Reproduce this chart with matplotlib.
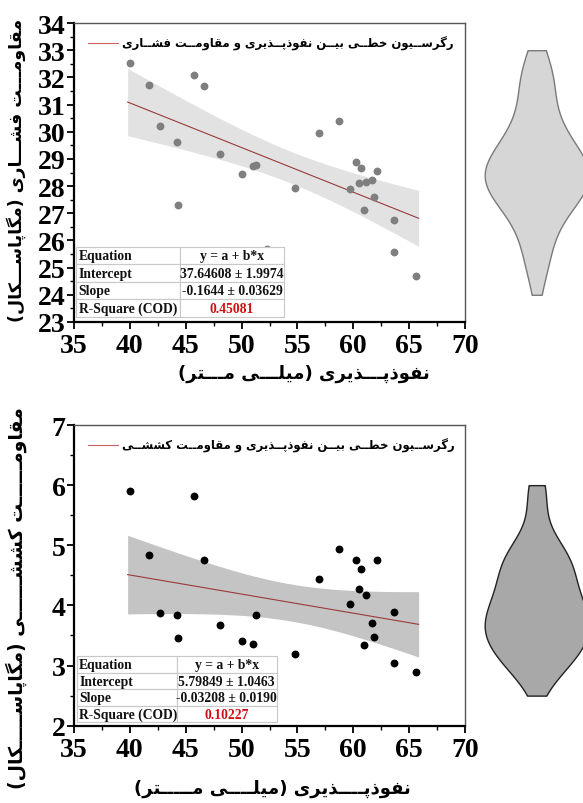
import numpy as np
import matplotlib
matplotlib.use('Agg')
import matplotlib.pyplot as plt
from matplotlib.ticker import MultipleLocator

# ---------------- data ----------------
permeability = [40.0, 41.7, 42.7, 44.25, 44.3, 45.7, 46.6, 48.1, 50.0, 51.05, 51.3, 52.25,
                54.76, 56.96, 58.7, 59.74, 60.28, 60.55, 60.66, 60.96, 61.15, 61.68, 61.83,
                62.13, 63.68, 63.68, 65.65]
compressive = [32.52, 31.73, 30.2, 29.64, 27.32, 32.1, 31.7, 29.17, 28.45, 28.73, 28.77, 25.7,
               27.92, 29.96, 30.39, 27.9, 28.89, 28.1, 28.67, 27.11, 28.14, 28.23, 27.6,
               28.57, 26.75, 25.57, 24.69]
tensile = [5.90, 4.84, 3.88, 3.84, 3.46, 5.82, 4.76, 3.68, 3.41, 3.36, 3.84, 2.95,
           3.19, 4.44, 4.94, 4.02, 4.76, 4.27, 4.61, 3.34, 4.18, 3.71, 3.47,
           4.76, 3.89, 3.05, 2.90]

x_ticks = [35, 40, 45, 50, 55, 60, 65, 70]
comp_yticks = list(range(23, 35))
tens_yticks = [2, 3, 4, 5, 6, 7]
comp_violin_range = (24.0, 33.0)
tens_violin_range = (2.5, 6.0)

comp_xlabel = "نفوذپـــذیری (میلـــی مـــتر)"
tens_xlabel = "نفوذپــــذیری (میلــــی مـــــتر)"
comp_ylabel = "مقاومـــت فشـــاری (مگاپاســـکال)"
tens_ylabel = "مقاومــــــت کششــــــی (مگاپاســـــکال)"
comp_legend = "رگرســیون خطــی بیــن نفوذپــذیری و مقاومــت فشــاری"
tens_legend = "رگرســیون خطــی بیــن نفوذپــذیری و مقاومــت کششــی"

table_rows = ["Equation", "Intercept", "Slope", "R-Square (COD)"]
comp_table_vals = ["y = a + b*x", "37.64608 ± 1.9974", "-0.1644 ± 0.03629", "0.45081"]
tens_table_vals = ["y = a + b*x", "5.79849 ± 1.0463", "-0.03208 ± 0.0190", "0.10227"]

# ---------------- simple Arabic/Persian shaping ----------------
DUAL = {
    'ب': (0xFE8F, 0xFE90, 0xFE91, 0xFE92), 'ت': (0xFE95, 0xFE96, 0xFE97, 0xFE98),
    'خ': (0xFEA5, 0xFEA6, 0xFEA7, 0xFEA8), 'س': (0xFEB1, 0xFEB2, 0xFEB3, 0xFEB4),
    'ش': (0xFEB5, 0xFEB6, 0xFEB7, 0xFEB8), 'ط': (0xFEC1, 0xFEC2, 0xFEC3, 0xFEC4),
    'ف': (0xFED1, 0xFED2, 0xFED3, 0xFED4), 'ق': (0xFED5, 0xFED6, 0xFED7, 0xFED8),
    'ل': (0xFEDD, 0xFEDE, 0xFEDF, 0xFEE0), 'م': (0xFEE1, 0xFEE2, 0xFEE3, 0xFEE4),
    'ن': (0xFEE5, 0xFEE6, 0xFEE7, 0xFEE8), 'ه': (0xFEE9, 0xFEEA, 0xFEEB, 0xFEEC),
    'پ': (0xFB56, 0xFB57, 0xFB58, 0xFB59), 'ک': (0xFB8E, 0xFB8F, 0xFB90, 0xFB91),
    'گ': (0xFB92, 0xFB93, 0xFB94, 0xFB95), 'ی': (0xFBFC, 0xFBFD, 0xFBFE, 0xFBFF),
}
RIGHT = {
    'ا': (0xFE8D, 0xFE8E), 'د': (0xFEA9, 0xFEAA), 'ذ': (0xFEAB, 0xFEAC),
    'ر': (0xFEAD, 0xFEAE), 'ز': (0xFEAF, 0xFEB0), 'و': (0xFEED, 0xFEEE),
}
TATWEEL = '\u0640'


def shape(s):
    chars = list(s)
    out = []

    def joins_next(c):
        return c is not None and (c in DUAL or c == TATWEEL)

    def joinable(c):
        return c is not None and (c in DUAL or c in RIGHT or c == TATWEEL)

    for i, c in enumerate(chars):
        prev = chars[i - 1] if i > 0 else None
        nxt = chars[i + 1] if i + 1 < len(chars) else None
        if c in DUAL or c in RIGHT:
            jp = joins_next(prev)
            jn = (c in DUAL) and joinable(nxt)
            if c in DUAL:
                f = DUAL[c]
                code = f[3] if (jp and jn) else f[1] if jp else f[2] if jn else f[0]
            else:
                f = RIGHT[c]
                code = f[1] if jp else f[0]
            out.append(chr(code))
        else:
            out.append(c)
    vis = ''.join(reversed(out))
    return vis.translate(str.maketrans('()', ')('))


# ---------------- helpers ----------------
SERIF = ['Liberation Serif', 'DejaVu Serif']
PERSIAN = ['DejaVu Sans']
T_CRIT = 2.0595  # t(0.975, df=25)


def fit_band(x, y):
    x = np.asarray(x, float)
    y = np.asarray(y, float)
    n = len(x)
    b, a = np.polyfit(x, y, 1)
    resid = y - (a + b * x)
    s = np.sqrt((resid ** 2).sum() / (n - 2))
    xm = x.mean()
    sxx = ((x - xm) ** 2).sum()
    xs = np.linspace(x.min() - 0.2, x.max() + 0.2, 200)
    ys = a + b * xs
    se = s * np.sqrt(1.0 / n + (xs - xm) ** 2 / sxx)
    return xs, ys, ys - T_CRIT * se, ys + T_CRIT * se


def kde(data, grid):
    d = np.asarray(data, float)
    bw = d.std(ddof=1) * len(d) ** (-0.2)
    z = (grid[:, None] - d[None, :]) / bw
    return np.exp(-0.5 * z ** 2).sum(1)


def style_axes(ax, yticks, ylim):
    ax.set_xlim(35, 70)
    ax.set_ylim(*ylim)
    ax.set_xticks(x_ticks)
    ax.set_yticks(yticks)
    ax.xaxis.set_minor_locator(MultipleLocator(2.5))
    ax.yaxis.set_minor_locator(MultipleLocator(0.5))
    ax.tick_params(which='major', direction='out', length=5, width=1.3,
                   top=False, right=False)
    ax.tick_params(axis='x', which='major', pad=3)
    ax.tick_params(axis='y', which='major', pad=1)
    ax.tick_params(which='minor', direction='out', length=3, width=1.0,
                   top=False, right=False)
    for lab in ax.get_xticklabels() + ax.get_yticklabels():
        lab.set_fontfamily(SERIF)
        lab.set_fontweight('bold')
        lab.set_fontsize(20)
    for sp in ['left', 'bottom']:
        ax.spines[sp].set_linewidth(1.6)
        ax.spines[sp].set_color('black')
    for sp in ['top', 'right']:
        ax.spines[sp].set_linewidth(1.0)
        ax.spines[sp].set_color('#555555')


def add_table(ax, vals, bbox):
    cell_text = [[r, v] for r, v in zip(table_rows, vals)]
    tbl = ax.table(cellText=cell_text, bbox=bbox, cellLoc='center')
    tbl.auto_set_font_size(False)
    tbl.set_zorder(6)
    for (r, c), cell in tbl.get_celld().items():
        cell.set_edgecolor('#c8c8c8')
        cell.set_linewidth(0.8)
        cell.set_facecolor('white')
        t = cell.get_text()
        t.set_fontfamily(SERIF)
        t.set_fontweight('bold')
        t.set_fontsize(9.8)
        t.set_color('#111111')
        if c == 0:
            cell._loc = 'left'
            cell.PAD = 0.025
            t.set_horizontalalignment('left')
        if r == 3 and c == 1:
            t.set_color('#d01010')
    return tbl


def draw_panel(ax, vax, y, pt_color, band_color, yticks, ylim, legend_text,
               table_vals, table_bbox, vrange, v_face, v_edge):
    xs, ys, lo, hi = fit_band(permeability, y)
    ax.fill_between(xs, lo, hi, color=band_color, lw=0, zorder=1)
    line, = ax.plot(xs, ys, color='#9a3a3a', lw=0.8, zorder=2, label=shape(legend_text))
    ax.scatter(permeability, y, s=32, color=pt_color, zorder=3, linewidths=0)
    style_axes(ax, yticks, ylim)
    leg = ax.legend(handles=[line], loc='upper left', bbox_to_anchor=(0.025, 0.972),
                    frameon=False, handlelength=2.5, handletextpad=0.4,
                    borderaxespad=0.0,
                    prop={'family': PERSIAN, 'weight': 'bold', 'size': 8.4})
    leg.legend_handles[0].set_color('#d06060')
    add_table(ax, table_vals, table_bbox)

    grid = np.linspace(vrange[0], vrange[1], 300)
    dens = kde(y, grid)
    w = dens / dens.max() * 52.0
    vax.fill_betweenx(grid, -w, w, facecolor=v_face, edgecolor=v_edge, lw=1.0)
    vax.set_xlim(-66.7, 46.3)
    vax.axis('off')


W, H = 583, 804
fig = plt.figure(figsize=(W / 100, H / 100), dpi=100)

ax1 = fig.add_axes([74 / W, 1 - 323 / H, 391 / W, 299 / H])
vax1 = fig.add_axes([470 / W, 1 - 323 / H, 113 / W, 299 / H], sharey=ax1)
ax2 = fig.add_axes([74 / W, 1 - 726.7 / H, 391 / W, 300.7 / H])
vax2 = fig.add_axes([470 / W, 1 - 726.7 / H, 113 / W, 300.7 / H], sharey=ax2)

draw_panel(ax1, vax1, compressive, '#7f7f7f', '#e2e2e2', comp_yticks, (23, 34),
           comp_legend, comp_table_vals, [0.005, 0.017, 0.532, 0.234],
           comp_violin_range, '#d6d6d6', '#7a7a7a')
draw_panel(ax2, vax2, tensile, 'black', '#c4c4c4', tens_yticks, (2, 7),
           tens_legend, tens_table_vals, [0.007, 0.011, 0.511, 0.220],
           tens_violin_range, '#a8a8a8', '#222222')

# axis labels (placed as figure text)
fig.text(304 / W, 1 - 374 / H, shape(comp_xlabel), ha='center', va='center',
         family=PERSIAN, weight='bold', fontsize=13)
fig.text(272 / W, 1 - 789 / H, shape(tens_xlabel), ha='center', va='center',
         family=PERSIAN, weight='bold', fontsize=13)
fig.text(16 / W, 1 - 170 / H, shape(comp_ylabel), ha='center', va='center',
         rotation=90, family=PERSIAN, weight='bold', fontsize=12.5)
fig.text(16 / W, 1 - 598 / H, shape(tens_ylabel), ha='center', va='center',
         rotation=90, family=PERSIAN, weight='bold', fontsize=13.5)

fig.savefig('out.png', dpi=100)
